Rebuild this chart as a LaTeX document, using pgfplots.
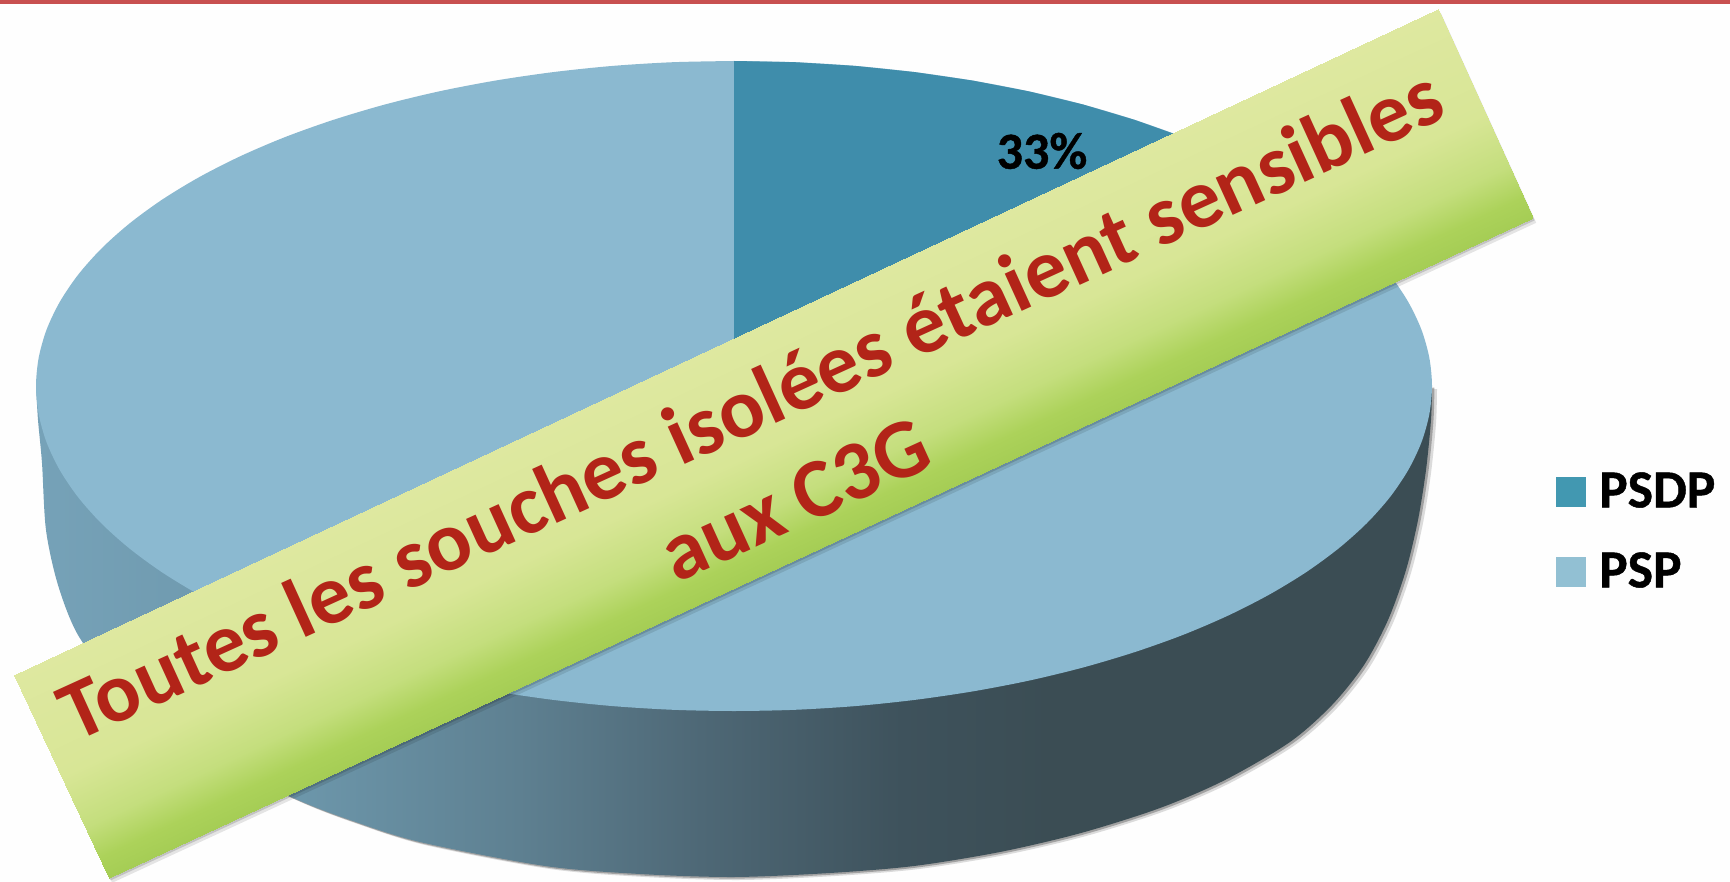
\documentclass[border=0pt]{standalone}
\usepackage{fontspec}
\setmainfont{Carlito}
\newfontfamily\heavy{Carlito}[BoldFeatures={FakeBold=0.8}]
\usepackage{pgfplots}
\usepackage{pgfplotstable}
\pgfplotsset{compat=1.18}
\usepgfplotslibrary{patchplots}

\definecolor{psdp}{RGB}{63,141,171}
\definecolor{psp}{RGB}{139,185,208}
\definecolor{swpsdp}{RGB}{66,152,177}
\definecolor{swpsp}{RGB}{146,192,211}
\definecolor{topbar}{RGB}{200,80,80}
\definecolor{bantext}{RGB}{178,36,24}
\definecolor{wa}{RGB}{118,162,184}
\definecolor{wb}{RGB}{108,150,170}
\definecolor{wc}{RGB}{94,128,145}
\definecolor{wd}{RGB}{78,104,118}
\definecolor{we}{RGB}{62,82,92}
\definecolor{wf}{RGB}{59,77,84}

\pgfdeclarehorizontalshading{sideshade}{100bp}{
  color(0bp)=(wa);
  color(25bp)=(wa);
  color(34.5bp)=(wb);
  color(42.3bp)=(wc);
  color(48.8bp)=(wd);
  color(56bp)=(we);
  color(61.3bp)=(wf);
  color(100bp)=(wf)}

% top face outline, pixel coordinates of the reference
\pgfplotstableread{
x y
734 61
794.8 62.2
855.2 65.9
914.7 72.1
972.7 80.6
1029 91.4
1083 104.5
1134.4 119.8
1182.7 137
1227.6 156.2
1268.7 177.1
1305.8 199.6
1338.5 223.5
1366.6 248.6
1389.9 274.8
1408.2 301.9
1421.4 329.6
1429.3 357.7
1432 386
1429.3 414.3
1421.4 442.4
1408.2 470.1
1389.9 497.2
1366.6 523.4
1338.5 548.5
1305.8 572.4
1268.7 594.9
1227.6 615.8
1182.7 635
1134.4 652.2
1083 667.5
1029 680.6
972.7 691.4
914.7 699.9
855.2 706.1
794.8 709.8
734 711
673.2 709.8
612.8 706.1
553.3 699.9
495.3 691.4
439 680.6
385 667.5
333.6 652.2
285.3 635
240.4 615.8
199.3 594.9
162.2 572.4
129.5 548.5
101.4 523.4
78.1 497.2
59.8 470.1
46.6 442.4
38.7 414.3
36 386
38.7 357.7
46.6 329.6
59.8 301.9
78.1 274.8
101.4 248.6
129.5 223.5
162.2 199.6
199.3 177.1
240.4 156.2
285.3 137
333.6 119.8
385 104.5
439 91.4
495.3 80.6
553.3 72.1
612.8 65.9
673.2 62.2
734 61
}\topface

% PSDP wedge
\pgfplotstableread{
x y
734 386
734 61
794.8 62.2
855.2 65.9
914.7 72.1
972.7 80.6
1029 91.4
1083 104.5
1134.4 119.8
1182.7 137
1227.6 156.2
1250 167
}\wedge

% lower edge of the side wall
\pgfplotstableread{
x y
36 386
38 420
42 463
46 530
58 585
78 635
115 683
165 725
225 765
298 800
350 820
420 842
545 866
640 874
734 877
830 873
914 866
1000 852
1081 833
1160 808
1225 780
1290 742
1332 705
1364 665
1388 620
1406 570
1418 520
1426 470
1431 420
1432 386
}\sideedge

% banner, meta runs across its width
\pgfplotstableread{
x y c
14 675 0
1438 9 0
1533 218 1
109 878 1
}\banner

\begin{document}
\begin{tikzpicture}
\begin{axis}[
    scale only axis,
    width=865pt,
    height=441pt,
    xmin=0, xmax=1730,
    ymin=0, ymax=882,
    y dir=reverse,
    axis lines=none,
    clip=true,
    point meta min=0,
    point meta max=1,
    colormap={bannermap}{
      rgb255(0cm)=(222,232,160);
      rgb255(5cm)=(216,230,150);
      rgb255(7.5cm)=(196,222,125);
      rgb255(9cm)=(172,210,90);
      rgb255(10cm)=(165,205,85)},
    legend image code/.code={\fill[#1, draw=none] (0pt,-8.5pt) rectangle (15pt,6.5pt);},
    legend cell align=left,
    legend style={
      at={(axis cs:1556,473)}, anchor=north west,
      draw=none, fill=none, inner sep=0pt,
      font=\heavy\bfseries\fontsize{26.8}{26.8}\selectfont,
      nodes={inner sep=0pt, text height=17pt, text depth=0pt},
      row sep=23pt,
      /tikz/every odd column/.append style={column sep=6.4pt}},
  ]
  % page background and top rule
  \addplot[forget plot, draw=none, fill=white!99.5!black] coordinates {(0,0)(1730,0)(1730,882)(0,882)};
  \addplot[forget plot, draw=none, fill=topbar] coordinates {(0,0)(1730,0)(1730,4)(0,4)};

  % soft shadow of the wall
  \addplot[forget plot, smooth, draw=none, fill=black!45!white, opacity=.3, xshift=2.5pt, yshift=-1.5pt] table {\sideedge};
  \addplot[forget plot, smooth, draw=none, fill=black!55!white, opacity=.55, xshift=1.2pt, yshift=-.8pt] table {\sideedge};
  \addplot[forget plot, smooth, draw=none, shading=sideshade] table {\sideedge};

  % slices
  \addplot[forget plot, smooth, draw=none, fill=psp] table {\topface};
  \addplot[forget plot, draw=none, fill=psdp] table {\wedge};

  % banner
  \addplot[forget plot, draw=none, fill=black, opacity=.1, xshift=1.6pt, yshift=-2.4pt] table[x=x,y=y] {\banner};
  \addplot[forget plot, draw=none, fill=black, opacity=.15, xshift=.8pt, yshift=-1.2pt] table[x=x,y=y] {\banner};
  \addplot[forget plot, patch, patch type=rectangle, shader=interp, point meta=\thisrow{c}] table[x=x,y=y] {\banner};

  \addlegendimage{fill=swpsdp}
  \addlegendentry{PSDP}
  \addlegendimage{fill=swpsp}
  \addlegendentry{PSP}

  \node[font=\heavy\bfseries\fontsize{26}{26}\selectfont, text=black] at (axis cs:1042,151) {33\%};
  \node[font=\bfseries\fontsize{42.2}{42.2}\selectfont, text=bantext, rotate=24.5] at (axis cs:750,403) {Toutes les souches isolées étaient sensibles};
  \node[font=\bfseries\fontsize{42}{42}\selectfont, text=bantext, rotate=24.5] at (axis cs:795,500) {aux C3G};
\end{axis}
\end{tikzpicture}
\end{document}
